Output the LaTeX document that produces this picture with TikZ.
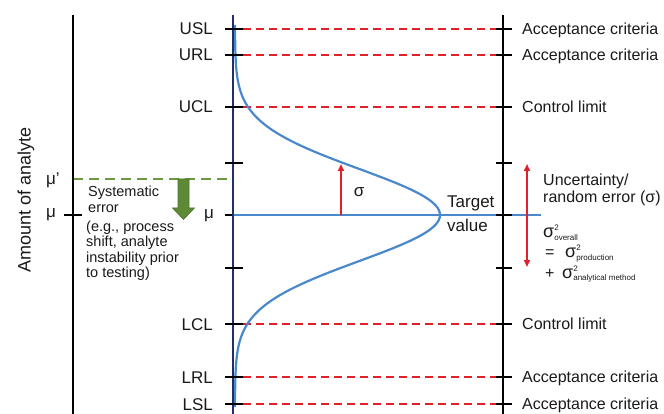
\documentclass[tikz,border=0pt]{standalone}
\usepackage{fontspec}
\setmainfont{Liberation Sans}
\usetikzlibrary{arrows.meta}
\definecolor{navyaxis}{HTML}{1F2F6B}
\definecolor{curveblue}{HTML}{4A88CC}
\definecolor{limred}{HTML}{E0202A}
\definecolor{shiftgreen}{HTML}{6A9A3C}
\definecolor{arrowgreen}{HTML}{5E8A38}
\definecolor{txt}{HTML}{1A1A1A}
\newcommand{\sigsq}[1]{σ\rlap{\smash{\raisebox{7pt}{\fontsize{8}{8}\selectfont 2}}}\smash{\raisebox{-2pt}{\fontsize{8}{8}\selectfont #1}}}
\begin{document}
\begin{tikzpicture}[x=1pt,y=-1pt,
  axisline/.style={line width=2pt,black},
  tickline/.style={line width=1.5pt,black},
  limdash/.style={draw=limred,line width=2pt,dash pattern=on 8pt off 5pt},
  lbl/.style={font=\fontsize{17}{20}\selectfont,inner sep=0pt,text=txt},
  rlbl/.style={font=\fontsize{16}{19}\selectfont,inner sep=0pt,text=txt,anchor=base west},
  body/.style={font=\fontsize{14.5}{15}\selectfont,inner sep=0pt,text=txt,anchor=base west},
  formula/.style={font=\fontsize{18}{20}\selectfont,text=txt,inner sep=0pt,anchor=base west},
  opsym/.style={font=\fontsize{16}{20}\selectfont,text=txt,inner sep=0pt,anchor=base west},
  redarrow/.style={draw=limred,line width=1.8pt,-{Triangle[length=7pt,width=6pt]}}
]
\useasboundingbox (0,0) rectangle (664,414);

% axis coordinates
\coordinate (lt) at (73,15);  \coordinate (lb) at (73,414);
\coordinate (bt) at (233,15); \coordinate (bb) at (233,414);
\coordinate (rt) at (503,15); \coordinate (rb) at (503,414);

% limit dashed lines with labels
\foreach \y/\n/\r in {29/USL/Acceptance criteria,55/URL/Acceptance criteria,107/UCL/Control limit,324/LCL/Control limit,377/LRL/Acceptance criteria,404/LSL/Acceptance criteria}{
  \coordinate (d1-\n) at (243,\y);
  \coordinate (d2-\n) at (496,\y);
  \draw[limdash] (d1-\n) -- (d2-\n);
  \node[lbl,anchor=base east] (lab-\n) at (213,\y+6) {\n};
  \node[rlbl] (rlab-\n) at (522,\y+5.7) {\r};
}

% bell curve
\draw[curveblue,line width=2.2pt] plot[domain=25:407,samples=160,smooth]
  ({235+205*exp(-0.5*((\x-215)/46)^2)},\x);

% target line
\coordinate (tl) at (233,215);
\coordinate (tr) at (541,215);
\draw[tickline] (225,215) -- (233,215);
\draw[curveblue,line width=2pt] (tl) -- (tr);

% green shift
\coordinate (g1) at (73,179);
\coordinate (g2) at (233,179);
\draw[shiftgreen,line width=2pt,dash pattern=on 10pt off 6pt] (g1) -- (g2);
\filldraw[fill=arrowgreen,draw=arrowgreen!85!black,line width=0.6pt]
  (178,179) -- (189,179) -- (189,208) -- (194.5,208) -- (183.5,219.5) -- (172.5,208) -- (178,208) -- cycle;

% axes
\draw[axisline] (lt) -- (lb);
\draw[navyaxis,line width=2.5pt] (bt) -- (bb);
\draw[axisline] (rt) -- (rb);

% ticks
\foreach \y in {29,55,107,163,268,324,377,404}{
  \draw[tickline] (225,\y) -- (243,\y);
}
\foreach \y in {29,55,107,163,215,268,324,377,404}{
  \draw[tickline] (496,\y) -- (512,\y);
}
\draw[tickline] (64,215) -- (82,215);

% mu labels
\node[lbl,anchor=base west] (mup) at (46,185) {μ'};
\node[lbl,anchor=base west] (mul) at (46,218) {μ};
\node[lbl,anchor=base east] (mub) at (214,219) {μ};

% axis title
\node[font=\fontsize{18}{20}\selectfont,text=txt,rotate=90,inner sep=0pt] (title) at (26,200) {Amount of analyte};

% systematic error text
\node[body] (sys1) at (88,197) {Systematic};
\node[body] (sys2) at (88,213) {error};
\node[body] (sys3) at (86,232) {(e.g., process};
\node[body] (sys4) at (86,247) {shift, analyte};
\node[body] (sys5) at (86,262) {instability prior};
\node[body] (sys6) at (86,277) {to testing)};

% sigma arrow
\coordinate (s1) at (341,215);
\coordinate (s2) at (341,164);
\draw[redarrow] (s1) -- (s2);
\node[lbl,anchor=center] (sig) at (359,192) {σ};

% target value
\node[lbl,anchor=base west] (tv1) at (447,208) {Target};
\node[lbl,anchor=base west] (tv2) at (447,232) {value};

% uncertainty arrow
\coordinate (u1) at (527,164);
\coordinate (u2) at (527,267);
\draw[draw=limred,line width=1.8pt,{Triangle[length=7pt,width=6pt]}-{Triangle[length=7pt,width=6pt]}] (u1) -- (u2);
\node[rlbl] (unc1) at (543,186) {Uncertainty/};
\node[rlbl] (unc2) at (543,203) {random error (σ)};

% variance formula
\node[formula] (v1) at (543,238) {\sigsq{overall}};
\node[opsym] (v2eq) at (545,258) {=};
\node[formula] (v2) at (565,258) {\sigsq{production}};
\node[opsym] (v3p) at (545,278) {+};
\node[formula] (v3) at (562,278) {\sigsq{analytical method}};
\end{tikzpicture}
\end{document}
